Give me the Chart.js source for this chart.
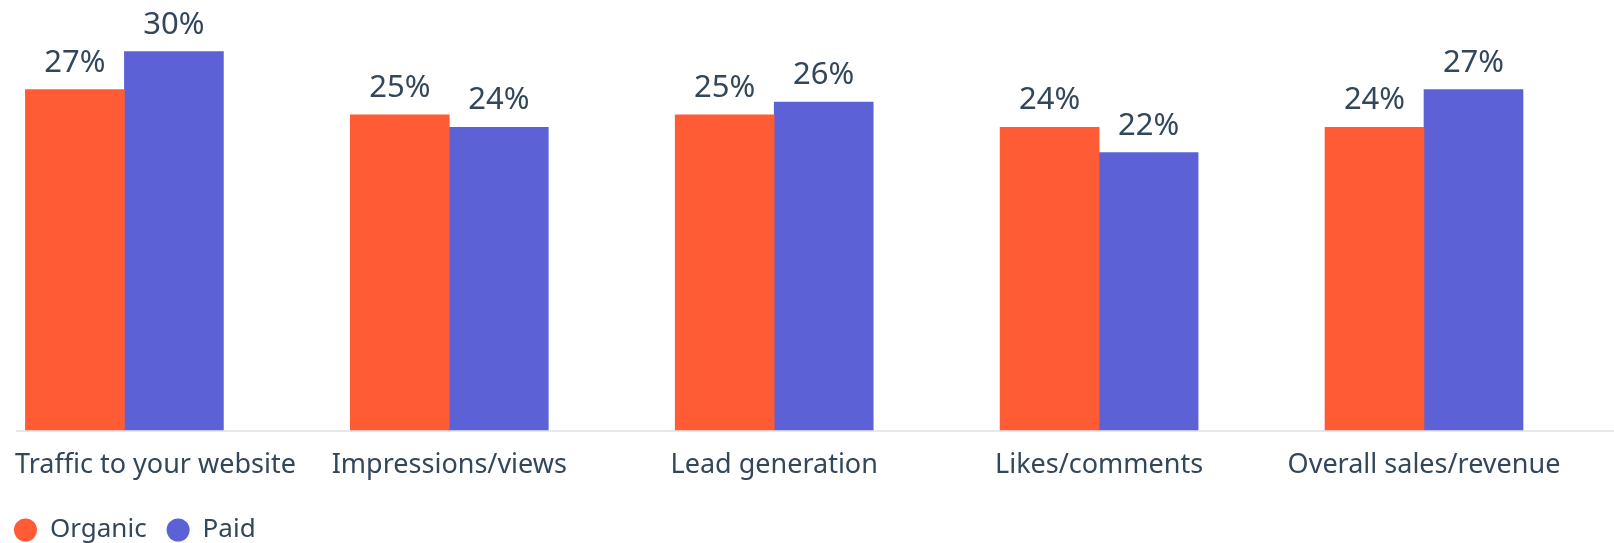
<!DOCTYPE html>
<html>
<head>
<meta charset="utf-8">
<script src="https://cdn.jsdelivr.net/npm/chart.js@4"></script>
<style>
  html, body { margin: 0; padding: 0; background: #fff; }
  #wrap { width: 1614px; height: 543px; position: relative; }
</style>
</head>
<body>
<div id="wrap"><canvas id="goalsChart"></canvas></div>
<script>
/* ── Data ── */
const categories = ['Traffic to your website', 'Impressions/views', 'Lead generation', 'Likes/comments', 'Overall sales/revenue'];
const organic = [27, 25, 25, 24, 24];
const paid    = [30, 24, 26, 22, 27];
const seriesNames = ['Organic', 'Paid'];

/* ── Look ── */
const COLORS = ['#ff5c35', '#5c62d6'];
const TEXT = '#33475b';
const FONT = "'Noto Sans', 'Lato', sans-serif";

// value labels above each bar
const barLabels = {
  id: 'barLabels',
  afterDatasetsDraw(chart) {
    const ctx = chart.ctx;
    ctx.save();
    ctx.font = '31px ' + FONT;
    ctx.fillStyle = TEXT;
    ctx.textAlign = 'center';
    ctx.textBaseline = 'alphabetic';
    chart.data.datasets.forEach((ds, di) => {
      chart.getDatasetMeta(di).data.forEach((bar, i) => {
        ctx.fillText(ds.data[i].y + '%', bar.x, bar.y - 18);
      });
    });
    ctx.restore();
  }
};

// baseline + category names (first one kept inside the canvas)
const categoryAxis = {
  id: 'categoryAxis',
  beforeDatasetsDraw(chart) {
    const ctx = chart.ctx;
    const y = chart.scales.y.getPixelForValue(0);
    ctx.save();
    ctx.strokeStyle = '#e6e8ea';
    ctx.lineWidth = 2;
    ctx.beginPath();
    ctx.moveTo(16, y + 1);
    ctx.lineTo(chart.width, y + 1);
    ctx.stroke();
    ctx.restore();
  },
  afterDraw(chart) {
    const ctx = chart.ctx;
    const xs = chart.scales.x;
    const y = chart.scales.y.getPixelForValue(0) + 43;
    ctx.save();
    ctx.font = '27px ' + FONT;
    ctx.fillStyle = TEXT;
    ctx.textAlign = 'left';
    ctx.textBaseline = 'alphabetic';
    categories.forEach((name, i) => {
      const w = ctx.measureText(name).width;
      let x = xs.getPixelForValue(i) - w / 2;
      x = Math.max(15, Math.min(x, chart.width - w - 4));
      ctx.fillText(name, x, y);
    });
    ctx.restore();
  }
};

new Chart(document.getElementById('goalsChart'), {
  type: 'bar',
  data: {
    datasets: [
      {
        label: seriesNames[0],
        data: organic.map((v, i) => ({ x: i, y: v })),
        backgroundColor: COLORS[0],
        borderWidth: 0
      },
      {
        label: seriesNames[1],
        data: paid.map((v, i) => ({ x: i, y: v })),
        backgroundColor: COLORS[1],
        borderWidth: 0
      }
    ]
  },
  options: {
    responsive: true,
    maintainAspectRatio: false,
    animation: false,
    // negative left padding only pulls the legend in; the plot area stays at 0
    layout: { padding: { left: -6, right: 0, top: 0, bottom: -10 } },
    datasets: { bar: { barThickness: 99, clip: false } },
    plugins: {
      tooltip: { enabled: false },
      legend: {
        display: true,
        position: 'bottom',
        align: 'start',
        labels: {
          color: TEXT,
          font: { family: FONT, size: 26 },
          usePointStyle: true,
          pointStyle: 'circle',
          pointStyleWidth: 23,
          boxHeight: 16.3,
          padding: 20
        }
      }
    },
    scales: {
      x: {
        type: 'linear',
        offset: false,
        min: -0.3829,
        max: 4.5848,
        grid: { display: false, offset: false },
        border: { display: false },
        ticks: { display: false },
        afterFit: s => { s.height = 67; }
      },
      y: {
        display: false,
        min: 0,
        max: 34.1
      }
    }
  },
  plugins: [barLabels, categoryAxis]
});
</script>
</body>
</html>
